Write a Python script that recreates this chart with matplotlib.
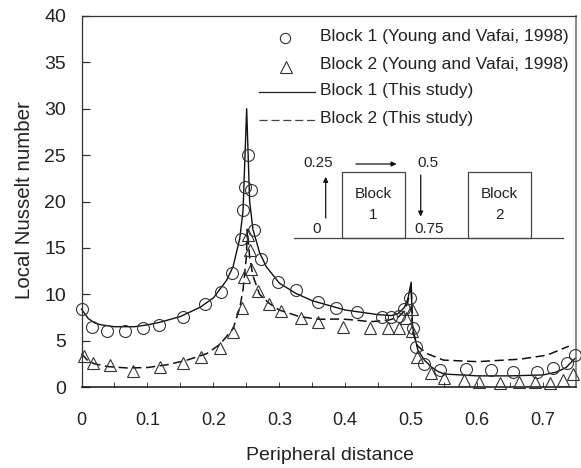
import matplotlib
matplotlib.use("Agg")
import matplotlib.pyplot as plt
from matplotlib.patches import Rectangle

W, H = 581, 468
INK = "#222222"

circle_x = [0.0, 0.016, 0.038, 0.066, 0.093, 0.118, 0.154, 0.187, 0.211, 0.228, 0.2416, 0.2456, 0.248, 0.252, 0.257,
            0.262, 0.272, 0.2987, 0.3255, 0.358, 0.386, 0.4176, 0.4555, 0.469, 0.481, 0.489, 0.4985, 0.5035, 0.507,
            0.5197, 0.544, 0.5835, 0.621, 0.6537, 0.6907, 0.7145, 0.737, 0.749]
circle_y = [8.37, 6.5, 6.07, 6.07, 6.36, 6.68, 7.58, 8.95, 10.2, 12.26, 15.96, 19.1, 21.6, 25.0, 21.2,
            16.9, 13.76, 11.35, 10.46, 9.13, 8.55, 8.05, 7.58, 7.58, 7.65, 8.37, 9.63, 6.33, 4.35,
            2.48, 1.83, 1.9, 1.83, 1.65, 1.65, 2.0, 2.55, 3.4]

tri_x = [0.004, 0.018, 0.043, 0.078, 0.119, 0.1536, 0.182, 0.2106, 0.23, 0.243, 0.247, 0.252, 0.2557, 0.2577, 0.2674,
         0.284, 0.302, 0.3326, 0.359, 0.397, 0.4378, 0.4655, 0.4818, 0.4924, 0.501, 0.501, 0.5086, 0.5303, 0.5505,
         0.5794, 0.6036, 0.635, 0.664, 0.688, 0.71, 0.73, 0.746]
tri_y = [3.38, 2.62, 2.34, 1.76, 2.12, 2.59, 3.27, 4.17, 5.97, 8.48, 11.9, 16.4, 14.8, 12.7, 10.4,
         8.95, 8.23, 7.47, 7.04, 6.43, 6.32, 6.32, 6.32, 7.4, 8.37, 6.07, 3.27, 1.54, 0.94,
         0.75, 0.5, 0.46, 0.5, 0.57, 0.46, 0.75, 1.4]

solid_x = [0.0, 0.01, 0.02, 0.03, 0.05, 0.08, 0.1, 0.12, 0.15, 0.18, 0.2, 0.22, 0.23, 0.24, 0.245, 0.2505, 0.255,
           0.26, 0.27, 0.28, 0.3, 0.325, 0.35, 0.4, 0.45, 0.47, 0.48, 0.49, 0.495, 0.5, 0.502, 0.51, 0.52, 0.53,
           0.54, 0.55, 0.6, 0.65, 0.7, 0.72, 0.735, 0.75]
solid_y = [8.4, 7.4, 6.9, 6.7, 6.5, 6.5, 6.7, 7.0, 7.6, 8.6, 9.6, 11.5, 13.0, 16.0, 19.0, 30.0, 20.0,
           17.0, 14.5, 13.0, 11.2, 10.1, 9.3, 8.3, 7.8, 7.7, 7.9, 8.6, 9.5, 11.3, 6.5, 4.0, 2.9, 2.2,
           1.7, 1.4, 1.2, 1.2, 1.3, 1.6, 2.1, 3.2]

dash_x = [0.0, 0.01, 0.02, 0.04, 0.07, 0.1, 0.13, 0.16, 0.19, 0.21, 0.23, 0.24, 0.245, 0.25, 0.2515, 0.255, 0.26,
          0.27, 0.285, 0.3, 0.33, 0.36, 0.395, 0.4176, 0.438, 0.465, 0.48, 0.49, 0.495, 0.5, 0.502, 0.51, 0.524,
          0.549, 0.6, 0.665, 0.706, 0.739]
dash_y = [3.6, 2.8, 2.5, 2.2, 2.05, 2.1, 2.4, 2.9, 3.6, 4.6, 6.3, 8.5, 10.5, 14.0, 17.0, 14.0, 12.0,
          10.0, 9.0, 8.3, 7.6, 7.3, 7.33, 7.2, 7.04, 7.2, 7.5, 8.2, 9.2, 11.0, 6.0, 4.4, 3.6,
          2.9, 2.73, 3.0, 3.43, 4.4]

x_ticks = [0.0, 0.05, 0.1, 0.15, 0.2, 0.25, 0.3, 0.35, 0.4, 0.45, 0.5, 0.55, 0.6, 0.65, 0.7, 0.75]
x_tick_labels = ["0", "", "0.1", "", "0.2", "", "0.3", "", "0.4", "", "0.5", "", "0.6", "", "0.7", ""]
y_ticks = [0, 5, 10, 15, 20, 25, 30, 35, 40]
series_names = ["Block 1 (Young and Vafai, 1998)", "Block 2 (Young and Vafai, 1998)",
                "Block 1 (This study)", "Block 2 (This study)"]

plt.rcParams["font.family"] = ["Liberation Sans", "DejaVu Sans"]

fig = plt.figure(figsize=(W / 100, H / 100), dpi=100)
L, R, T, B = 81.5, 576, 16, 387
ax = fig.add_axes([L / W, 1 - B / H, (R - L) / W, (B - T) / H])
ax.set_xlim(0, 0.75)
ax.set_ylim(0, 40)

ax.plot(solid_x, solid_y, color="#111111", lw=1.0, zorder=2, clip_on=False)
ax.plot(dash_x, dash_y, color="#111111", lw=1.1, ls=(0, (6, 3)), zorder=2, clip_on=False)
ax.plot(circle_x, circle_y, ls="none", marker="o", ms=8.6, mfc="none", mec="#333333", mew=0.8,
        zorder=3, clip_on=False)
ax.plot(tri_x, tri_y, ls="none", marker="^", ms=8.8, mfc="none", mec="#333333", mew=0.8,
        zorder=3, clip_on=False)

ax.set_xticks(x_ticks)
ax.set_xticklabels(x_tick_labels)
ax.set_yticks(y_ticks)
ax.tick_params(axis="x", direction="in", length=3.8, width=0.7, color="#444444",
               labelsize=13, labelcolor=INK, pad=18)
ax.tick_params(axis="y", direction="in", length=5.8, width=0.9, color="#333333",
               labelsize=14, labelcolor=INK, pad=11)
for side in ("left", "top"):
    ax.spines[side].set_linewidth(0.9)
    ax.spines[side].set_color("#333333")
ax.spines["bottom"].set_linewidth(1.1)
ax.spines["bottom"].set_color("#111111")
ax.spines["right"].set_linewidth(1.3)
ax.spines["right"].set_color("#808080")

def fx(px):
    return px / W

def fy(py):
    return 1 - py / H

fig.text(fx(330), fy(455), "Peripheral distance", ha="center", va="center", fontsize=14, color=INK)
fig.text(fx(24), fy(200), "Local Nusselt number", ha="center", va="center", rotation=90, fontsize=14.8, color=INK)

# legend
for py, name in zip([37, 64.6, 91, 118], series_names):
    fig.text(fx(319.5), fy(py), name, ha="left", va="center", fontsize=12.5, color=INK)
fig.add_artist(plt.Line2D([fx(285)], [fy(38.3)], marker="o", ms=7.4, mfc="none", mec="#333333", mew=0.8, ls="none"))
fig.add_artist(plt.Line2D([fx(285.7)], [fy(67)], marker="^", ms=8.4, mfc="none", mec="#333333", mew=0.8, ls="none"))
fig.add_artist(plt.Line2D([fx(259), fx(315)], [fy(92), fy(92)], color="#222222", lw=0.9))
fig.add_artist(plt.Line2D([fx(259), fx(315)], [fy(119.5), fy(119.5)], color="#444444", lw=0.9, ls=(0, (6.5, 3))))

# inset sketch
for x0, x1 in [(341.7, 404.7), (467.7, 531.3)]:
    fig.add_artist(Rectangle((fx(x0), fy(238.3)), fx(x1) - fx(x0), fy(171.7) - fy(238.3),
                             transform=fig.transFigure, fc="none", ec="#444444", lw=0.9))
fig.add_artist(plt.Line2D([fx(294), fx(563.3)], [fy(238.3), fy(238.3)], color="#444444", lw=0.9))

def arrow(x0, y0, x1, y1):
    ax.annotate("", xy=(fx(x1), fy(y1)), xytext=(fx(x0), fy(y0)),
                xycoords="figure fraction", textcoords="figure fraction",
                arrowprops=dict(arrowstyle="-|>,head_length=0.3,head_width=0.14", color="#111111",
                                lw=0.9, shrinkA=0, shrinkB=0))

arrow(325.7, 218, 325.7, 176.7)
arrow(356, 164, 396.7, 164)
arrow(420.7, 175, 420.7, 216.7)

for px, py, s in [(318, 163, "0.25"), (428, 163, "0.5"), (373, 194, "Block"), (373, 215, "1"),
                  (317, 229, "0"), (429, 229, "0.75"), (499, 194, "Block"), (499, 215, "2")]:
    fig.text(fx(px), fy(py), s, ha="center", va="center", fontsize=11, color=INK)

fig.savefig("out.png", dpi=100)
